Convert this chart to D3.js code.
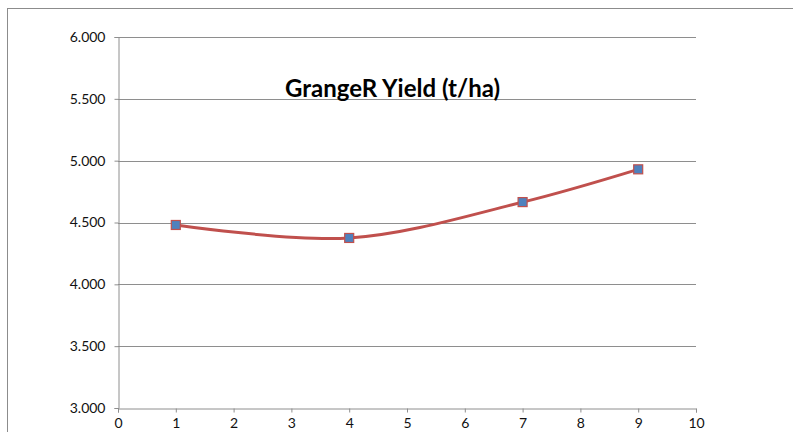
<!DOCTYPE html>
<html>
<head>
<meta charset="utf-8">
<script src="https://cdn.jsdelivr.net/npm/d3@7"></script>
<style>
  body { margin: 0; background: #fff; }
  svg { display: block; font-family: Lato, "Open Sans", sans-serif; }
</style>
</head>
<body>
<svg id="chart" width="793" height="432"></svg>
<script>
// series
const xValues = [1, 4, 7, 9];
const yieldValues = [4.48, 4.375, 4.665, 4.93];
const yTicks = [3.0, 3.5, 4.0, 4.5, 5.0, 5.5, 6.0];
const xTicks = [0, 1, 2, 3, 4, 5, 6, 7, 8, 9, 10];
const chartTitle = "GrangeR Yield (t/ha)";

const svg = d3.select("#chart");
const margin = { left: 118, top: 37, right: 97, bottom: 24 };
const width = 793 - margin.left - margin.right;
const height = 432 - margin.top - margin.bottom;

// outer chart border (runs off the right and bottom edge)
svg.append("rect")
  .attr("x", 7.5).attr("y", 8.5)
  .attr("width", 800).attr("height", 440)
  .attr("fill", "none").attr("stroke", "#8c8c8c").attr("stroke-width", 1);

const g = svg.append("g").attr("transform", `translate(${margin.left},${margin.top})`);

const x = d3.scaleLinear().domain([0, 10]).range([0, width]);
const y = d3.scaleLinear().domain([3, 6]).range([height, 0]);

// gridlines
g.append("g")
  .selectAll("line")
  .data(yTicks.filter((d) => d > 3))
  .join("line")
  .attr("x1", 0).attr("x2", width)
  .attr("y1", (d) => Math.round(y(d)) + 0.5)
  .attr("y2", (d) => Math.round(y(d)) + 0.5)
  .attr("stroke", "#8e8e8e");

// y axis
const yAxis = g.append("g")
  .attr("transform", "translate(0.5,0)")
  .call(d3.axisLeft(y).tickValues(yTicks).tickFormat(d3.format(".3f")).tickSize(4).tickPadding(9));

// x axis
const xAxis = g.append("g")
  .attr("transform", `translate(0,${height + 0.5})`)
  .call(d3.axisBottom(x).tickValues(xTicks).tickSize(4).tickPadding(6));

[yAxis, xAxis].forEach((a) => {
  a.select(".domain").attr("stroke", "#8e8e8e");
  a.selectAll(".tick line").attr("stroke", "#8e8e8e");
  a.selectAll(".tick text")
    .attr("fill", "#111")
    .style("font-size", "14px")
    .style("font-family", "Lato, 'Open Sans', sans-serif");
});

// title
g.append("text")
  .attr("x", x(4.75))
  .attr("y", 97 - margin.top)
  .attr("text-anchor", "middle")
  .style("font-size", "24px")
  .style("font-weight", "bold")
  .attr("fill", "#000")
  .text(chartTitle);

const points = xValues.map((d, i) => ({ x: d, y: yieldValues[i] }));

const line = d3.line()
  .x((d) => x(d.x))
  .y((d) => y(d.y))
  .curve(d3.curveCatmullRom.alpha(0.5));

g.append("path")
  .datum(points)
  .attr("d", line)
  .attr("fill", "none")
  .attr("stroke", "#c0504d")
  .attr("stroke-width", 3);

const s = 9;
g.selectAll(".marker")
  .data(points)
  .join("rect")
  .attr("class", "marker")
  .attr("x", (d) => x(d.x) - s / 2)
  .attr("y", (d) => y(d.y) - s / 2)
  .attr("width", s).attr("height", s)
  .attr("fill", "#4f81bd")
  .attr("stroke", "#c0504d")
  .attr("stroke-width", 1.2);
</script>
</body>
</html>
